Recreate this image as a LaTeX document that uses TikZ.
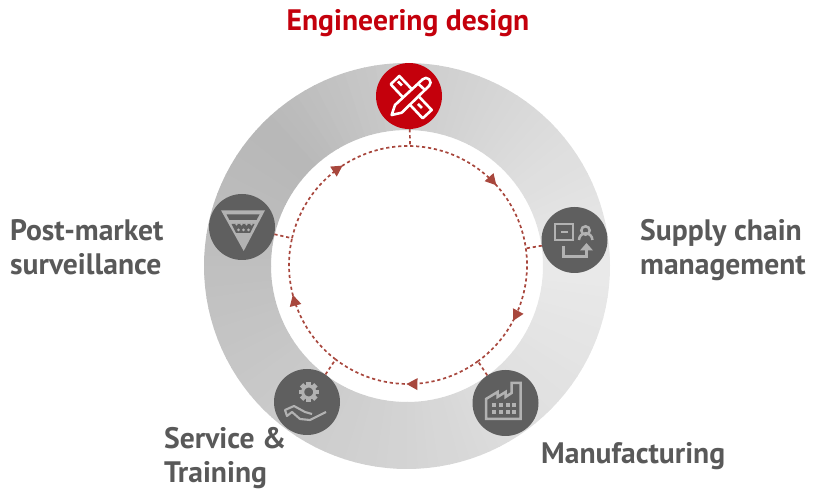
\documentclass[tikz,border=0pt]{standalone}
\usepackage{fontspec}
\setmainfont{PT Sans}
\usetikzlibrary{arrows.meta,decorations.markings}
\definecolor{hubdark}{HTML}{5F5F5F}
\definecolor{hubred}{HTML}{C4000C}
\definecolor{icongray}{HTML}{B2B2B2}
\definecolor{flowred}{HTML}{A8473D}
\definecolor{labelgray}{HTML}{595959}
\tikzset{
  hub/.style={circle,minimum size=66pt,inner sep=0pt,fill=hubdark},
  hubtop/.style={hub,fill=hubred},
  lbl/.style={font=\fontsize{29.6}{34}\selectfont\bfseries,text=labelgray,align=left,inner sep=0pt,anchor=west},
  lbltop/.style={lbl,text=hubred,anchor=center},
  flowdash/.style={draw=flowred,line width=1.7pt,dash pattern=on 3.2pt off 2.8pt},
  flowarc/.style={flowdash,postaction={decorate},decoration={markings,mark=at position #1 with {\arrow[solid,fill=flowred,draw=flowred]{Triangle[length=11pt,width=11.5pt]}}}},
  iconline/.style={draw=icongray,line width=2.5pt,line join=miter},
}
\begin{document}
\begin{tikzpicture}[x=1pt,y=1pt]
\useasboundingbox (0,0) rectangle (813,489);
% ring
\foreach \a/\b/\p/\q in {0/45/8.5/14, 45/90/14/20, 90/135/20/28, 135/180/28/25, 180/225/25/21, 225/270/21/17, 270/315/17/12, 315/360/12/8.5}{
  \pgfmathsetmacro{\n}{int((\b-\a)/3)-1}
  \foreach \i in {0,...,\n}{
    \pgfmathsetmacro{\s}{\a+3*\i}
    \pgfmathsetmacro{\e}{\s+3.3}
    \pgfmathsetmacro{\g}{\p+(\q-\p)*(\i+.5)/(\n+1)}
    \fill[black!\g] ([shift={(\s:203)}]407,223) arc[start angle=\s,end angle=\e,radius=203] -- ([shift={(\e:136)}]407,223) arc[start angle=\e,end angle=\s,radius=136] -- cycle;
  }
}
\coordinate (c) at (408,224);
\path (c) ++(89:119) coordinate (jtop);
\path (c) ++(8:119) coordinate (jright);
\path (c) ++(-54:119) coordinate (jmfg);
\path (c) ++(-127.5:119) coordinate (jsrv);
\path (c) ++(167:119) coordinate (jpost);
% hubs
\node[hubtop] (design) at (409,393) {};
\node[hub] (supply) at (574.5,249) {};
\node[hub] (mfg) at (505.5,86) {};
\node[hub] (service) at (307,87) {};
\node[hub] (post) at (242,262) {};
% flow
\draw[flowarc=0.58] (jtop) arc[start angle=89,end angle=8,radius=119];
\draw[flowarc=0.58] (jright) arc[start angle=8,end angle=-54,radius=119];
\draw[flowarc=0.5] (jmfg) arc[start angle=-54,end angle=-127.5,radius=119];
\draw[flowarc=0.58] (jsrv) arc[start angle=232.5,end angle=167,radius=119];
\draw[flowarc=0.56] (jpost) arc[start angle=167,end angle=89,radius=119];
\draw[flowdash] (design) -- (jtop);
\draw[flowdash] (supply) -- (jright);
\draw[flowdash] (mfg) -- (jmfg);
\draw[flowdash] (service) -- (jsrv);
\draw[flowdash] (post) -- (jpost);
% design icon
\begin{scope}[shift={(design)},draw=white,line width=2.6pt,line join=round]
  \draw[fill=hubred] (-9.7,20) -- (-18.3,11.7) -- (13.7,-22.3) -- (22.7,-14) -- cycle;
  \draw (-11,14.5) -- (-7,10.5) (9,-8) -- (13,-12);
  \draw[fill=hubred] (13.7,16.7) arc[start angle=135,end angle=-45,radius=4.6] -- (-7.3,-16.7) -- (-17.3,-19) -- (-14,-9) -- cycle;
  \draw (10,11.5) -- (16,6);
\end{scope}
% supply icon
\begin{scope}[shift={(supply)},iconline]
  \draw (-19.5,16) rectangle (-1.5,0);
  \fill[icongray] (-14,9.2) rectangle (-7,6.6);
  \draw (11,9.5) circle (4.2);
  \draw (4.5,0) arc[start angle=180,end angle=0,radius=6.7];
  \draw[line width=3pt] (-11,-6) -- (-11,-17) -- (12,-17) -- (12,-8);
  \fill[icongray] (12,-3) -- (5.5,-10.5) -- (18.5,-10.5) -- cycle;
\end{scope}
% factory icon
\begin{scope}[shift={(mfg)},iconline]
  \draw (-19.5,-16) -- (-19.5,4) -- (-8,11) -- (-8,6) -- (0,11) -- (0,6) -- (6,10) -- (6,20) -- (15,20) -- (15,-16) -- cycle;
  \foreach \x in {-12,-5,2,8.5}{\foreach \y in {-2,-9}{\fill[icongray] (\x-2,\y-2) rectangle (\x+2,\y+2);}}
\end{scope}
% service icon
\begin{scope}[shift={(service)},iconline]
  \foreach \r in {0,45,...,315}{\fill[icongray,shift={(1.7,10)},rotate=\r] (-2.4,6) rectangle (2.4,10.2);}
  \draw[line width=3pt] (1.7,10) circle (6);
  \draw[line width=2.1pt,line join=round] (19,-10) -- (3,-18) -- (-7,-17) -- (-15,-10) -- (-20,-14) -- (-22,-8) -- (-13,-4) -- (-2,-10) -- (5,-12);
\end{scope}
% surveillance icon
\begin{scope}[shift={(post)}]
  \fill[icongray] (-21,16.7) -- (23,16.7) -- (1.7,-24) -- cycle;
  \fill[hubdark] (-15.5,12.5) -- (17.5,12.5) -- (14.5,7) -- (-12.5,7) -- cycle;
  \fill[hubdark] (-10.5,3) -- (12.5,3) -- (8,-6) -- (-6,-6) -- cycle;
  \foreach \x in {-3.5,1.5,6.5}{\fill[icongray] (\x,-3) circle (1.5);}
  \foreach \x in {-5.5,-.5,4.5,9.5}{\fill[icongray] (\x,2.6) circle (1.2);}
\end{scope}
% labels
\node[lbltop] (tdesign) at (408,466) {Engineering design};
\node[lbl] (tsupply) at (640,239) {Supply chain\\management};
\node[lbl] (tmfg) at (541,33) {Manufacturing};
\node[lbl] (tservice) at (164,31) {Service \&\\Training};
\node[lbl] (tpost) at (10,242) {Post-market\\surveillance};
\end{tikzpicture}
\end{document}
